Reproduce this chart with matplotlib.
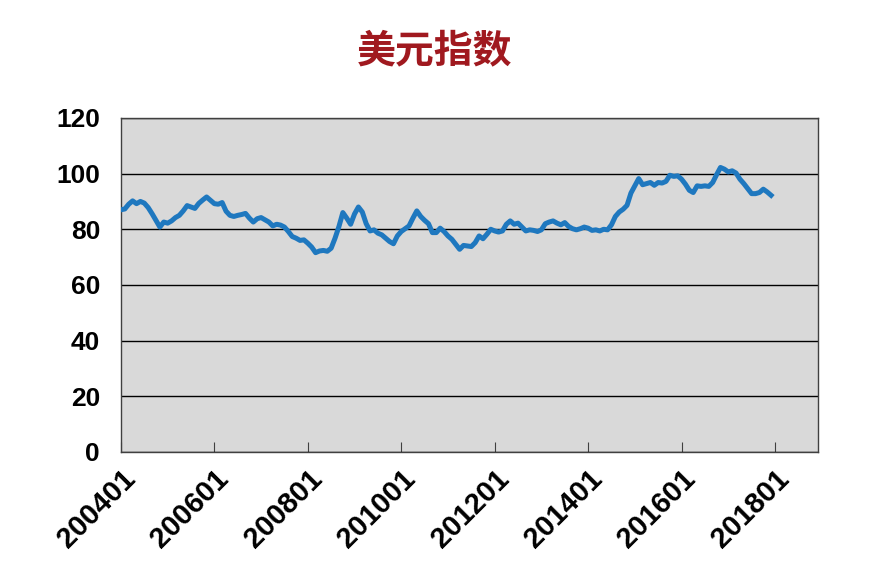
import numpy as np
import matplotlib.pyplot as plt

plt.rcParams['font.family'] = ['Liberation Sans', 'DejaVu Sans']

# 美元指数 月度数据 200401 - 201712
y2004 = [87.0, 87.3, 89.0, 90.2, 89.2, 90.0, 89.4, 87.8, 85.6, 83.2, 80.8, 82.6]
y2005 = [82.2, 83.0, 84.2, 85.0, 86.6, 88.5, 88.0, 87.5, 89.3, 90.5, 91.6, 90.4]
y2006 = [89.2, 89.0, 89.6, 86.5, 85.0, 84.6, 85.0, 85.3, 85.7, 84.0, 82.6, 83.8]
y2007 = [84.2, 83.4, 82.6, 81.2, 81.8, 81.5, 80.8, 79.2, 77.4, 76.8, 76.0, 76.2]
y2008 = [75.0, 73.6, 71.6, 72.2, 72.4, 72.1, 73.2, 76.8, 81.0, 86.0, 84.0, 81.8]
y2009 = [85.5, 88.0, 86.2, 82.0, 79.4, 79.8, 78.6, 78.0, 76.8, 75.6, 74.8, 77.6]
y2010 = [79.2, 80.2, 81.2, 84.0, 86.6, 84.6, 83.2, 82.0, 78.8, 78.8, 80.4, 79.2]
y2011 = [77.6, 76.4, 74.6, 72.8, 74.2, 74.0, 73.8, 75.2, 77.6, 76.6, 78.2, 80.0]
y2012 = [79.4, 79.0, 79.4, 81.8, 83.0, 81.8, 82.2, 80.8, 79.4, 79.8, 79.6, 79.2]
y2013 = [79.8, 82.0, 82.6, 83.0, 82.2, 81.6, 82.4, 81.0, 80.2, 79.8, 80.2, 80.8]
y2014 = [80.4, 79.6, 79.8, 79.4, 80.0, 79.8, 81.6, 84.6, 86.2, 87.2, 88.6, 93.0]
y2015 = [95.6, 98.2, 96.0, 96.4, 96.8, 95.8, 96.8, 96.6, 97.2, 99.4, 99.0, 99.2]
y2016 = [98.0, 96.2, 94.0, 93.2, 95.6, 95.4, 95.6, 95.4, 96.8, 99.6, 102.2, 101.6]
y2017 = [100.6, 101.0, 100.2, 98.0, 96.4, 94.6, 92.8, 92.8, 93.2, 94.4, 93.4, 92.2]

values = (y2004 + y2005 + y2006 + y2007 + y2008 + y2009 + y2010 +
          y2011 + y2012 + y2013 + y2014 + y2015 + y2016 + y2017)
tick_labels = ['200401', '200601', '200801', '201001', '201201', '201401', '201601', '201801']

fig = plt.figure(figsize=(8.7, 5.8), dpi=100)
ax = fig.add_axes([0.139, 0.2207, 0.801, 0.576])
ax.set_facecolor('#d9d9d9')

x = np.arange(len(values))
ax.plot(x, values, color='#1f78bf', lw=3.6, solid_joinstyle='round', zorder=3)

ax.set_ylim(0, 120)
ax.set_yticks(range(0, 121, 20))
ax.set_xlim(0, 179)
ax.set_xticks(np.arange(len(tick_labels)) * 24)
ax.set_xticklabels(tick_labels, rotation=45, ha='right', rotation_mode='anchor')

ax.grid(axis='y', color='black', lw=1.0, zorder=1)
ax.set_axisbelow(True)
for s in ax.spines.values():
    s.set_color('#404040')
    s.set_linewidth(1.0)

ax.tick_params(axis='y', length=0, pad=15, labelsize=19)
ax.tick_params(axis='x', direction='in', length=7, width=0.8, color='#404040', pad=9, labelsize=21)
for lab in ax.get_xticklabels() + ax.get_yticklabels():
    lab.set_fontweight('bold')

fig.text(0.5, 0.912, '美元指数', ha='center', va='center', fontsize=28, fontweight='bold',
         color='#a0191f', family=['Noto Sans CJK SC', 'DejaVu Sans'])

fig.savefig('out.png', dpi=100, facecolor='white')
